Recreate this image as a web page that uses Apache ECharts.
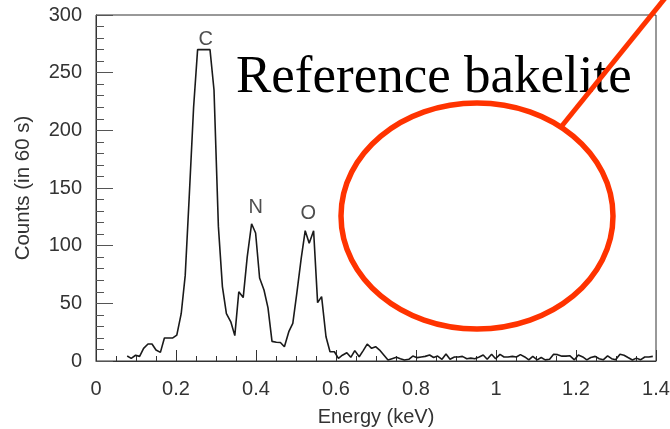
<!DOCTYPE html>
<html>
<head>
<meta charset="utf-8">
<script src="https://cdn.jsdelivr.net/npm/echarts@6/dist/echarts.min.js"></script>
<style>
html,body{margin:0;padding:0;background:#fff;}
#chart{width:670px;height:429px;}
</style>
</head>
<body>
<div id="chart"></div>
<script>
// Energy channels (keV)
var energy = [0.078,0.088,0.099,0.109,0.119,0.130,0.140,0.150,0.161,0.171,
0.182,0.192,0.202,0.213,0.223,0.233,0.244,0.254,0.264,0.275,
0.285,0.295,0.306,0.316,0.326,0.337,0.347,0.357,0.368,0.378,
0.389,0.399,0.409,0.420,0.430,0.440,0.451,0.461,0.471,0.482,
0.492,0.502,0.513,0.523,0.533,0.544,0.554,0.564,0.575,0.585,
0.596,0.606,0.616,0.627,0.637,0.647,0.658,0.668,0.678,0.689,
0.699,0.709,0.720,0.730,0.740,0.751,0.761,0.771,0.782,0.792,
0.803,0.813,0.823,0.834,0.844,0.854,0.865,0.875,0.885,0.896,
0.906,0.916,0.927,0.937,0.947,0.958,0.968,0.978,0.989,0.999,
1.010,1.020,1.030,1.041,1.051,1.061,1.072,1.082,1.092,1.103,
1.113,1.123,1.134,1.144,1.154,1.165,1.175,1.185,1.196,1.206,
1.217,1.227,1.237,1.248,1.258,1.268,1.279,1.289,1.299,1.310,
1.320,1.330,1.341,1.351,1.361,1.372,1.382,1.392];
// Counts (in 60 s)
var counts = [4.3,2.3,5,4,11,14.7,14.7,9.5,7.5,20,
20,20,22.5,41,74,142,220,270,270,270,
270,235,116.5,64.5,41,34,22,60,55,90,
119,111,72,61.6,46,17,16.2,16,12.4,25.4,
32.7,58.7,89,113,102,113,50.6,55.8,21,8,
8,2.3,5,7.2,3.2,9,3.7,9,14.7,11,
12.4,9.5,5,0.9,2,3.2,2,0.9,1.5,4.3,
2.9,3.5,4,5.2,3,4.3,1.5,6,1.5,3.5,
3.5,4,2,2.5,2,3.5,5.2,1.5,5.8,2,
5.8,3.5,3.5,4,3.5,5.5,3.5,1,4,1,
3,1,1.5,5.8,5.5,4.2,4.2,4.5,1,5.2,
3.5,1,3,4,2,1,4.5,2,1,5.8,
5,3,0.9,2.5,1,3.5,3.5,4];
// Peak labels
var peakNames = ['C','N','O'];
var peakEnergy = [0.274,0.399,0.531];
var peakCounts = [278.4,132.7,127.5];

var xTicks = {min:0, max:1.4, interval:0.2};
var yTicks = {min:0, max:300, interval:50};

var lineData = energy.map(function(e,i){return [e, counts[i]];});
var labelData = peakNames.map(function(n,i){return [peakEnergy[i], peakCounts[i], n];});

var FONT = '"Liberation Sans", Arial, Helvetica, sans-serif';
var chart = echarts.init(document.getElementById('chart'), null, {renderer:'canvas'});
chart.setOption({
  animation:false,
  backgroundColor:'#ffffff',
  grid:{left:96, top:15, right:14, bottom:68, containLabel:false, outerBoundsMode:'none',
        show:true, borderColor:'#333', borderWidth:1, backgroundColor:'transparent'},
  xAxis:{
    type:'value', min:xTicks.min, max:xTicks.max, interval:xTicks.interval,
    name:'Energy (keV)', nameLocation:'middle', nameGap:46,
    nameTextStyle:{fontFamily:FONT, fontSize:20, color:'#333'},
    axisLine:{show:true, lineStyle:{color:'#333', width:1}},
    axisTick:{show:true, inside:true, length:11, lineStyle:{color:'#333', width:1}},
    minorTick:{show:true, splitNumber:4, length:5, lineStyle:{color:'#333', width:1}},
    axisLabel:{fontFamily:FONT, fontSize:20, color:'#333', margin:18},
    splitLine:{show:false}
  },
  yAxis:{
    type:'value', min:yTicks.min, max:yTicks.max, interval:yTicks.interval,
    name:'Counts (in 60 s)', nameLocation:'middle', nameGap:62,
    nameTextStyle:{fontFamily:FONT, fontSize:20.5, color:'#333'},
    axisLine:{show:true, lineStyle:{color:'#333', width:1}},
    axisTick:{show:true, inside:true, length:17, lineStyle:{color:'#555', width:1}},
    minorTick:{show:true, splitNumber:5, length:8, lineStyle:{color:'#555', width:1}},
    axisLabel:{fontFamily:FONT, fontSize:20, color:'#333', margin:14},
    splitLine:{show:false}
  },
  series:[
    {type:'line', data:lineData, symbol:'none', smooth:false,
     lineStyle:{color:'#1a1a1a', width:1.6}, z:3},
    {type:'scatter', data:labelData, symbolSize:0, silent:true,
     label:{show:true, position:'inside', formatter:function(p){return p.value[2];},
       fontFamily:FONT, fontSize:20, color:'#222'}, z:4}
  ],
  graphic:[
    {type:'text', left:236, top:52, style:{text:'Reference bakelite', font:'53px "Liberation Serif", "Times New Roman", serif', fill:'#000'}, z:10},
    {type:'ellipse', shape:{cx:477, cy:216, rx:136, ry:113}, style:{fill:'none', stroke:'#ff3300', lineWidth:5.5}, z:11},
    {type:'line', shape:{x1:561, y1:127, x2:670, y2:-8}, style:{stroke:'#ff3300', lineWidth:5}, z:11}
  ]
});
</script>
</body>
</html>
